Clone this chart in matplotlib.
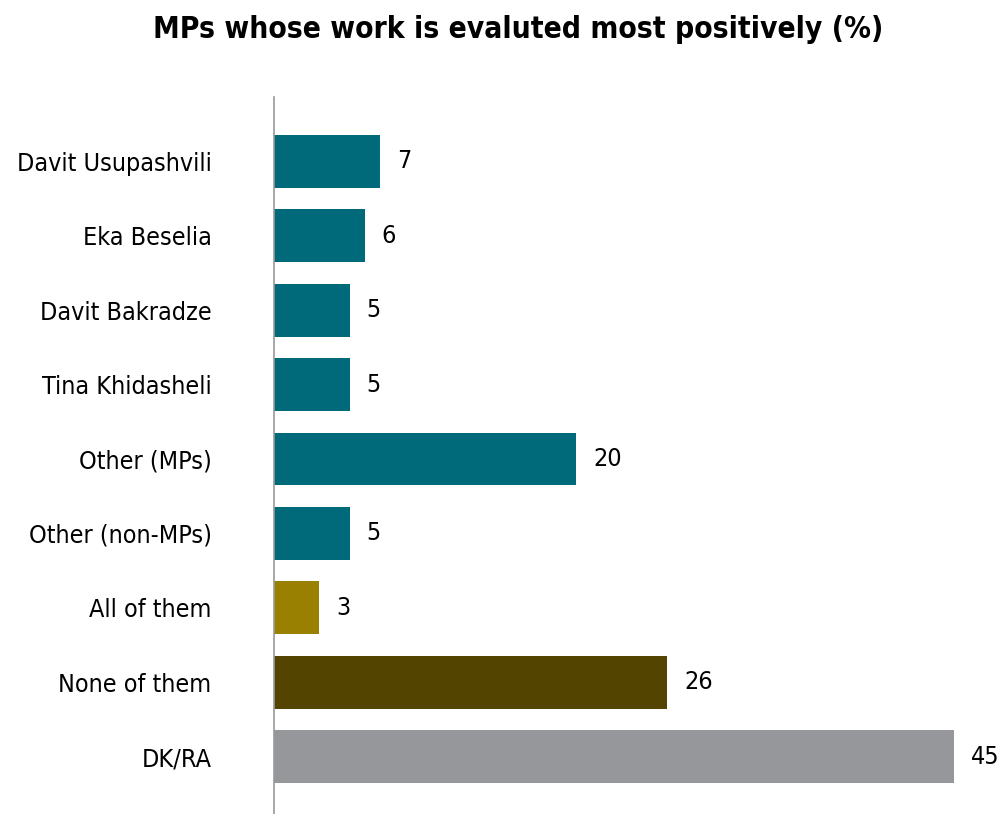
import matplotlib
matplotlib.use("Agg")
import matplotlib.pyplot as plt

categories = ["Davit Usupashvili", "Eka Beselia", "Davit Bakradze", "Tina Khidasheli",
              "Other (MPs)", "Other (non-MPs)", "All of them", "None of them", "DK/RA"]
values = [7, 6, 5, 5, 20, 5, 3, 26, 45]
colors = ["#006A7B"] * 6 + ["#998000", "#534400", "#96979B"]
title = "MPs whose work is evaluted most positively (%)"

plt.rcParams['font.family'] = ['DejaVu Sans']
plt.rcParams['font.stretch'] = 'condensed'

W, H = 1005, 814
fig = plt.figure(figsize=(W / 100, H / 100), dpi=100)
ax = fig.add_axes([274 / W, 0, 680 / W, (H - 97) / H])

y = list(range(len(categories)))
ax.barh(y, values, height=0.71, color=colors)
ax.set_xlim(0, 45)
ax.set_ylim(8.773, -0.867)

for yi, v in zip(y, values):
    ax.annotate(str(v), (v, yi), xytext=(17, 0), textcoords="offset pixels",
                ha="left", va="center", fontsize=18, color="#000000")

ax.set_yticks(y)
ax.set_yticklabels(categories, fontsize=18, color="#000000")
ax.tick_params(axis="y", length=0, pad=45)
ax.set_xticks([])
for s in ["top", "right", "bottom"]:
    ax.spines[s].set_visible(False)
ax.spines["left"].set_color("#9a9a9a")
ax.spines["left"].set_linewidth(1.2)

fig.text(518 / W, 1 - 30 / H, title, ha="center", va="center", fontsize=21.5,
         fontweight="bold", color="#000000")

fig.savefig("out.png", dpi=100)
